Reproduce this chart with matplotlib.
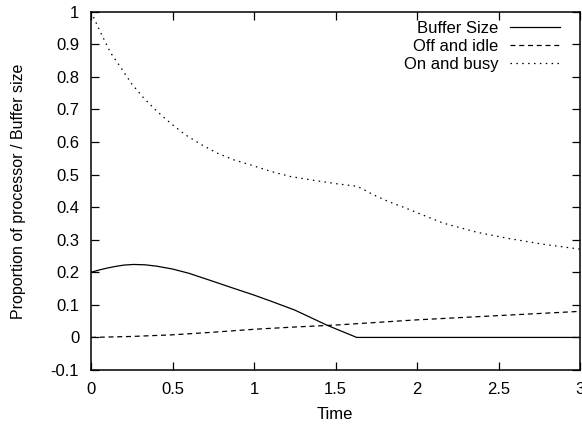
import matplotlib
matplotlib.use("Agg")
import matplotlib.pyplot as plt

plt.rcParams['font.family'] = ['Liberation Sans', 'DejaVu Sans']

# values
t_busy = [0.0, 0.055, 0.12, 0.186, 0.25, 0.325, 0.403, 0.487, 0.579, 0.677, 0.773,
          0.877, 0.996, 1.108, 1.223, 1.37, 1.517, 1.634, 1.732, 1.825, 1.926,
          2.01, 2.16, 2.366, 2.57, 2.775, 3.0]
on_busy = [1.0, 0.94, 0.874, 0.826, 0.778, 0.734, 0.695, 0.658, 0.622, 0.592, 0.566,
           0.545, 0.527, 0.509, 0.494, 0.482, 0.471, 0.464, 0.438, 0.417, 0.398,
           0.381, 0.351, 0.323, 0.303, 0.286, 0.271]

t_idle = [0.0, 0.25, 0.5, 0.75, 1.0, 1.25, 1.5, 1.75, 2.0, 2.5, 3.0]
off_idle = [0.0, 0.003, 0.008, 0.016, 0.025, 0.032, 0.038, 0.046, 0.054, 0.067, 0.080]

t_buf = [0.0, 0.05, 0.1, 0.15, 0.2, 0.26, 0.33, 0.4, 0.5, 0.6, 0.75, 0.85, 1.0,
         1.1, 1.25, 1.45, 1.63, 2.0, 2.5, 3.0]
buf_size = [0.20, 0.207, 0.213, 0.218, 0.222, 0.224, 0.223, 0.219, 0.21, 0.197,
            0.172, 0.155, 0.13, 0.112, 0.084, 0.037, 0.0, 0.0, 0.0, 0.0]

xticks = [0, 0.5, 1, 1.5, 2, 2.5, 3]
xticklabels = ['0', '0.5', '1', '1.5', '2', '2.5', '3']
yticks = [-0.1, 0, 0.1, 0.2, 0.3, 0.4, 0.5, 0.6, 0.7, 0.8, 0.9, 1]
yticklabels = ['-0.1', '0', '0.1', '0.2', '0.3', '0.4', '0.5', '0.6', '0.7', '0.8', '0.9', '1']

fig = plt.figure(figsize=(5.82, 4.25), dpi=100)
ax = fig.add_axes([0.1564, 0.1294, 0.8402, 0.8431])

ax.plot(t_buf, buf_size, color='black', lw=0.9, label='Buffer Size')
ax.plot(t_idle, off_idle, color='black', lw=0.9, linestyle=(0, (4, 3)), label='Off and idle')
ax.plot(t_busy, on_busy, color='black', lw=0.9, linestyle=(0, (1.2, 3.5)), label='On and busy')

ax.set_xlim(0, 3)
ax.set_ylim(-0.1, 1)
ax.set_xticks(xticks)
ax.set_xticklabels(xticklabels)
ax.set_yticks(yticks)
ax.set_yticklabels(yticklabels)
ax.tick_params(direction='in', length=6, width=0.9, labelsize=12, pad=8.5,
               top=True, right=True)
for s in ax.spines.values():
    s.set_linewidth(1.1)

ax.set_xlabel('Time', fontsize=12, va='center')
ax.xaxis.set_label_coords(0.498, -0.123)
ax.set_ylabel('Proportion of processor / Buffer size', fontsize=11.5, va='center')
ax.yaxis.set_label_coords(-0.149, 0.5)

ax.legend(loc='upper right', frameon=False, markerfirst=False, fontsize=12,
          handlelength=3.0, handletextpad=0.7, labelspacing=0.2,
          borderaxespad=0, borderpad=0, bbox_to_anchor=(0.959, 0.975))

fig.savefig('out.png', dpi=100)
